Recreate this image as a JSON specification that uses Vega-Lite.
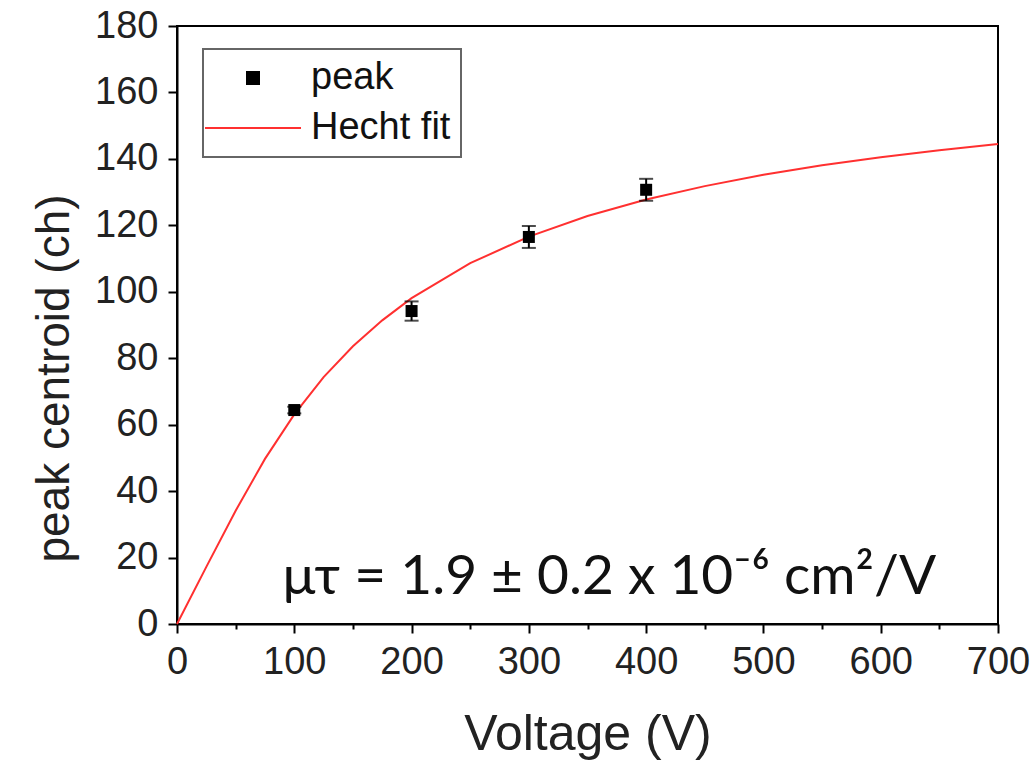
{
  "$schema": "https://vega.github.io/schema/vega-lite/v6.json",
  "width": 821,
  "height": 598,
  "autosize": {"type": "none"},
  "padding": {"left": 177, "top": 26, "right": 38, "bottom": 137},
  "background": "white",
  "config": {
    "view": {"stroke": "black", "strokeWidth": 2},
    "font": "Liberation Sans",
    "axis": {
      "domainColor": "black",
      "domainWidth": 2,
      "tickColor": "black",
      "tickWidth": 2,
      "grid": false,
      "labelFont": "Liberation Sans",
      "labelFontSize": 38,
      "labelColor": "#222222",
      "titleFont": "Liberation Sans",
      "titleFontSize": 50,
      "titleFontWeight": "normal",
      "titleColor": "#222222",
      "labelPadding": 10
    }
  },
  "datasets": {
    "fit": [
      {"V": 0, "Q": 0},
      {"V": 25, "Q": 17.2},
      {"V": 50, "Q": 34.1},
      {"V": 75, "Q": 49.7},
      {"V": 100, "Q": 63.1},
      {"V": 125, "Q": 74.3},
      {"V": 150, "Q": 83.6},
      {"V": 175, "Q": 91.4},
      {"V": 200, "Q": 98.1},
      {"V": 250, "Q": 108.6},
      {"V": 300, "Q": 116.6},
      {"V": 350, "Q": 122.8},
      {"V": 400, "Q": 127.8},
      {"V": 450, "Q": 131.8},
      {"V": 500, "Q": 135.2},
      {"V": 550, "Q": 138.1},
      {"V": 600, "Q": 140.5},
      {"V": 650, "Q": 142.6},
      {"V": 700, "Q": 144.5}
    ],
    "peak": [
      {"V": 100, "Q": 64.4, "lo": 63.4, "hi": 65.4},
      {"V": 200, "Q": 94.2, "lo": 91.3, "hi": 97.1},
      {"V": 300, "Q": 116.5, "lo": 113.2, "hi": 119.8},
      {"V": 400, "Q": 130.7, "lo": 127.4, "hi": 134.0}
    ],
    "note": [
      {"V": 90, "Q": 9, "label": "μτ = 1.9 ± 0.2 x 10⁻⁶ cm²/V"}
    ]
  },
  "layer": [
    {
      "data": {"name": "fit"},
      "mark": {"type": "line", "color": "#ff3030", "strokeWidth": 2},
      "encoding": {
        "x": {
          "field": "V",
          "type": "quantitative",
          "title": "Voltage (V)",
          "scale": {"domain": [0, 700], "nice": false},
          "axis": {
            "values": [0, 50, 100, 150, 200, 250, 300, 350, 400, 450, 500, 550, 600, 650, 700],
            "labelExpr": "datum.value % 100 === 0 ? datum.label : ''",
            "tickSize": {"condition": {"test": "datum.value % 100 === 0", "value": 9}, "value": 5},
            "titlePadding": 28,
            "labelFlush": false,
            "labelOverlap": false
          }
        },
        "y": {
          "field": "Q",
          "type": "quantitative",
          "title": "peak centroid (ch)",
          "scale": {"domain": [0, 180], "nice": false},
          "axis": {
            "values": [0, 10, 20, 30, 40, 50, 60, 70, 80, 90, 100, 110, 120, 130, 140, 150, 160, 170, 180],
            "labelExpr": "datum.value % 20 === 0 ? datum.label : ''",
            "tickSize": {"condition": {"test": "datum.value % 20 === 0", "value": 9}, "value": 5},
            "titlePadding": 16,
            "titleFontSize": 46,
            "titleY": 352,
            "labelFlush": false,
            "labelOverlap": false
          }
        },
        "color": {
          "datum": "Hecht fit",
          "type": "nominal",
          "scale": {"domain": ["peak", "Hecht fit"], "range": ["black", "#ff3030"]},
          "legend": {
            "title": null,
            "orient": "none",
            "legendX": 26,
            "legendY": 23,
            "strokeColor": "#666666",
            "fillColor": "white",
            "padding": 10,
            "labelFont": "Liberation Sans",
            "labelFontSize": 38,
            "labelColor": "#111111",
            "labelOffset": 39,
            "symbolOffset": 21,
            "rowPadding": 12,
            "symbolSize": 576,
            "encode": {
              "legend": {"update": {"strokeWidth": {"value": 2}}},
              "symbols": {
                "update": {
                  "shape": {"signal": "datum.value === 'peak' ? 'square' : 'M-4,0H4'"},
                  "size": {"signal": "datum.value === 'peak' ? 144 : 576"},
                  "fill": {"signal": "datum.value === 'peak' ? 'black' : 'transparent'"},
                  "stroke": {"signal": "datum.value === 'peak' ? 'transparent' : '#ff3030'"},
                  "strokeWidth": {"value": 2},
                  "opacity": {"value": 1}
                }
              }
            }
          }
        }
      }
    },
    {
      "data": {"name": "peak"},
      "mark": {"type": "errorbar", "ticks": {"size": 14, "thickness": 2, "color": "black"}, "rule": {"strokeWidth": 2, "color": "black"}},
      "encoding": {
        "x": {"field": "V", "type": "quantitative", "title": "Voltage (V)"},
        "y": {"field": "lo", "type": "quantitative", "title": "peak centroid (ch)"},
        "y2": {"field": "hi"}
      }
    },
    {
      "data": {"name": "peak"},
      "mark": {"type": "point", "shape": "square", "filled": true, "size": 144, "opacity": 1, "color": "black"},
      "encoding": {
        "x": {"field": "V", "type": "quantitative", "title": "Voltage (V)"},
        "y": {"field": "Q", "type": "quantitative", "title": "peak centroid (ch)"},
        "color": {"datum": "peak", "type": "nominal"}
      }
    },
    {
      "data": {"name": "note"},
      "mark": {"type": "text", "align": "left", "baseline": "alphabetic", "font": "Lato", "fontSize": 55, "color": "#111111"},
      "encoding": {
        "x": {"field": "V", "type": "quantitative", "title": "Voltage (V)"},
        "y": {"field": "Q", "type": "quantitative", "title": "peak centroid (ch)"},
        "text": {"field": "label"}
      }
    }
  ]
}
